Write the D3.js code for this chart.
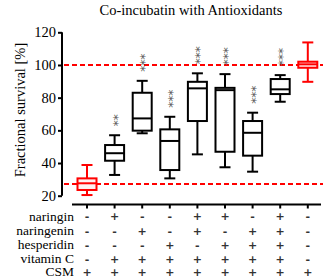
<!DOCTYPE html>
<html><head><meta charset="utf-8">
<script src="https://cdn.jsdelivr.net/npm/d3@7"></script>
<style>body{margin:0;background:#fff}svg{display:block}text{font-family:"Liberation Serif","Times New Roman",serif}</style>
</head><body><svg id="c" width="326" height="278"></svg>
<script>
const groups = ["CSM","+Ng+VC","+Ngn+VC","+H+VC","+Ng+Ngn+VC","+Ng+H+VC","+Ngn+H+VC","+all","control"];
const whiskerLow  = [20.4, 32.7, 58.2, 30.6, 45.3, 37.4, 34.7, 77.5, 89.7];
const q1          = [23.5, 41.4, 59.8, 35.7, 65.7, 46.9, 44.5, 82.2, 98.3];
const medians     = [27.6, 46.0, 67.3, 53.5, 85.7, 84.6, 58.5, 85.1, 100.4];
const q3          = [30.6, 51.0, 83.0, 60.6, 89.7, 86.0, 65.7, 91.4, 102.0];
const whiskerHigh = [38.8, 57.0, 90.3, 68.3, 94.9, 94.4, 70.8, 93.8, 113.8];
const significance = ["", "**", "***", "***", "***", "***", "***", "***", ""];
const isReference = [true, false, false, false, false, false, false, false, true];
const refLines = [100, 27.2];
const yTicks = [20, 40, 60, 80, 100, 120];
const rowLabels = ["naringin","naringenin","hesperidin","vitamin C","CSM"];
const naringin   = ["-","+","-","-","+","+","-","+","-"];
const naringenin = ["-","-","+","-","+","-","+","+","-"];
const hesperidin = ["-","-","-","+","-","+","+","+","-"];
const vitaminC   = ["-","+","+","+","+","+","+","+","-"];
const csm        = ["+","+","+","+","+","+","+","+","+"];
const rows = [naringin, naringenin, hesperidin, vitaminC, csm];
const title = "Co-incubatin with Antioxidants";
const yLabel = "Fractional survival [%]";

const svg = d3.select("#c");
const y = d3.scaleLinear().domain([20,120]).range([195.7,32.3]);
const x = d3.scaleBand().domain(groups).range([73.2,321.6]).paddingInner(0).paddingOuter(0);
const cx = g => x(g) + x.bandwidth()/2;
const boxW = 19, capW = 11;

svg.append("text").attr("x",191).attr("y",15).attr("text-anchor","middle")
  .attr("font-size",14.5).text(title);

svg.append("text").attr("transform","translate(25,110) rotate(-90)")
  .attr("text-anchor","middle").attr("font-size",14.5).text(yLabel);

const yAxis = svg.append("g").attr("transform","translate(62,0)")
  .call(d3.axisLeft(y).tickValues(yTicks).tickSize(4).tickPadding(2));
yAxis.select(".domain").attr("stroke","#000").attr("stroke-width",2).attr("d","M0,"+y(120)+"V"+y(20));
yAxis.selectAll(".tick line").attr("stroke-width",2);
yAxis.selectAll(".tick text").attr("font-size",14.5).attr("fill","#000")
  .style("font-family","'Liberation Serif',serif");

const xAxis = svg.append("g").attr("transform","translate(0,204.5)")
  .call(d3.axisBottom(x).tickSize(4).tickFormat(""));
xAxis.select(".domain").attr("stroke-width",2).attr("d","M72,0H321");
xAxis.selectAll(".tick line").attr("stroke-width",2);

svg.selectAll(".ref").data(refLines).join("line")
  .attr("x1",64).attr("x2",323).attr("y1",d=>y(d)).attr("y2",d=>y(d))
  .attr("stroke","#ff0000").attr("stroke-width",2).attr("stroke-dasharray","5,3");

groups.forEach((g,i)=>{
  const c = cx(g), col = isReference[i] ? "#ff0000" : "#000";
  const gg = svg.append("g").attr("stroke",col).attr("stroke-width",2).attr("fill","none");
  gg.append("line").attr("x1",c).attr("x2",c).attr("y1",y(whiskerHigh[i])).attr("y2",y(q3[i]));
  gg.append("line").attr("x1",c).attr("x2",c).attr("y1",y(q1[i])).attr("y2",y(whiskerLow[i]));
  gg.append("line").attr("x1",c-capW/2).attr("x2",c+capW/2).attr("y1",y(whiskerHigh[i])).attr("y2",y(whiskerHigh[i]));
  gg.append("line").attr("x1",c-capW/2).attr("x2",c+capW/2).attr("y1",y(whiskerLow[i])).attr("y2",y(whiskerLow[i]));
  gg.append("rect").attr("x",c-boxW/2).attr("width",boxW).attr("y",y(q3[i])).attr("height",y(q1[i])-y(q3[i]))
    .attr("fill", isReference[i] ? "#fff0f0" : "#fff");
  gg.append("line").attr("x1",c-boxW/2).attr("x2",c+boxW/2).attr("y1",y(medians[i])).attr("y2",y(medians[i]));
  if (significance[i]) {
    const bottom = y(whiskerHigh[i]) - 9;
    svg.append("text").attr("transform",`translate(${c+7},${bottom}) rotate(-90)`)
      .attr("font-size",12).attr("fill","#555")
      .style("font-family","'DejaVu Sans',sans-serif").text(significance[i]);
  }
});

const rowY = [216.7, 231.2, 245.2, 259.2, 272.2];
rowLabels.forEach((lab,r)=>{
  svg.append("text").attr("x",74).attr("y",rowY[r]+4).attr("text-anchor","end")
    .attr("font-size",13.5).text(lab);
  rows[r].forEach((s,i)=>{
    svg.append("text").attr("x",cx(groups[i])).attr("y",rowY[r]+3.5).attr("text-anchor","middle")
      .attr("font-size",11).attr("font-weight","bold").attr("fill","#333")
      .style("font-family","'DejaVu Sans',sans-serif").text(s);
  });
});
</script></body></html>
